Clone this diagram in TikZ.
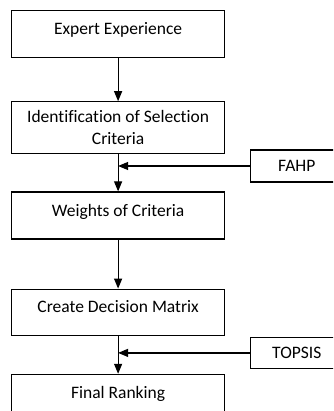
\documentclass[tikz,border=0pt]{standalone}
\usepackage{fontspec}
\setmainfont{Carlito}[Ligatures = CommonOff]
\usetikzlibrary{positioning,arrows.meta}

\tikzset{
	stage/.style = {draw, line width = 1.2pt, minimum width = 213pt, minimum height = 47pt, inner sep = 0pt, font = \fontsize{17.5}{22}\selectfont},
	oneline/.style = {text height = 12pt, text depth = 11pt},
	method/.style = {draw, line width = 1.2pt, minimum width = 92pt, minimum height = 32pt, inner sep = 0pt, anchor = north west, font = \fontsize{17.5}{22}\selectfont},
	flow/.style = {line width = 1.2pt, -{Triangle[width = 8pt, length = 10pt]}}
}

\begin{document}
\begin{tikzpicture}
	\useasboundingbox (-11pt, 10pt) rectangle (322pt, -401pt);
	\clip (-11pt, 10pt) rectangle (322pt, -401pt);
	
	% main chain
	\node[stage, oneline, anchor = north west] (expert) at (0, 0) {Expert Experience};
	\node[stage, minimum height = 52pt, align = center, below = 43pt of expert] (ident) {Identification of Selection\\Criteria};
	\node[stage, oneline, below = 37pt of ident] (weights) {Weights of Criteria};
	\node[stage, oneline, minimum height = 46pt, below = 49pt of weights] (matrix) {Create Decision Matrix};
	\node[stage, oneline, below = 38pt of matrix] (ranking) {Final Ranking};
	
	% methods
	\node[method] (fahp) at ([xshift = 25pt, yshift = 5pt] ident.south east) {FAHP};
	\node[method, minimum height = 31pt] (topsis) at ([xshift = 25pt, yshift = -1pt] matrix.south east) {TOPSIS};
	
	\draw[flow] (expert) -- (ident);
	\draw[flow] (ident) -- (weights);
	\draw[flow] (weights) -- (matrix);
	\draw[flow] (matrix) -- (ranking);
	
	\draw[flow] (fahp.west) -- (fahp.west -| ident.south);
	\draw[flow] (topsis.west) -- (topsis.west -| matrix.south);
\end{tikzpicture}
\end{document}
